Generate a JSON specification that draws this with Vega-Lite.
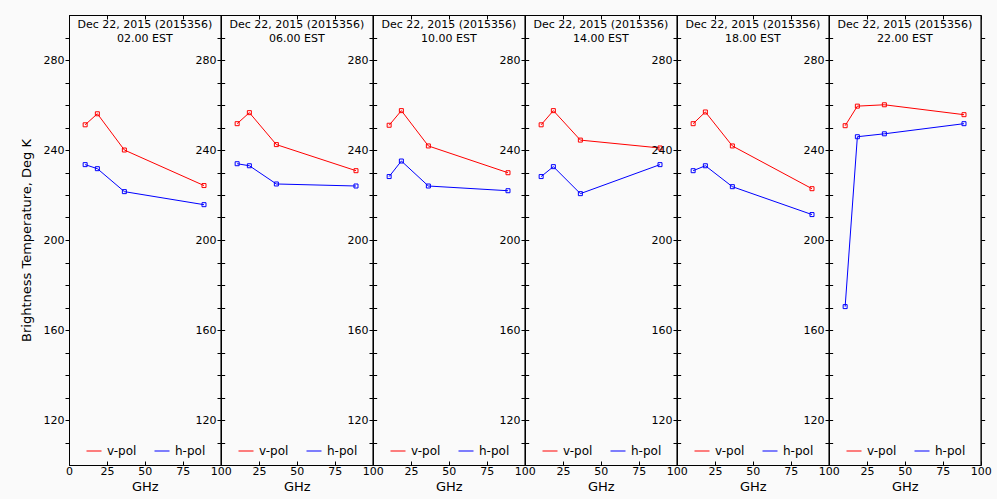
{
  "$schema": "https://vega.github.io/schema/vega-lite/v6.json",
  "background": "#fafafa",
  "padding": {"left": 19, "top": 14, "right": 5, "bottom": 5},
  "datasets": {
    "tb": [
      {"t": "02.00", "f": 10.65, "pol": "v-pol", "T": 251.2},
      {"t": "02.00", "f": 18.7, "pol": "v-pol", "T": 256.1},
      {"t": "02.00", "f": 36.5, "pol": "v-pol", "T": 240.0},
      {"t": "02.00", "f": 89.0, "pol": "v-pol", "T": 224.2},
      {"t": "02.00", "f": 10.65, "pol": "h-pol", "T": 233.5},
      {"t": "02.00", "f": 18.7, "pol": "h-pol", "T": 231.7},
      {"t": "02.00", "f": 36.5, "pol": "h-pol", "T": 221.5},
      {"t": "02.00", "f": 89.0, "pol": "h-pol", "T": 215.7},
      {"t": "06.00", "f": 10.65, "pol": "v-pol", "T": 251.7},
      {"t": "06.00", "f": 18.7, "pol": "v-pol", "T": 256.6},
      {"t": "06.00", "f": 36.5, "pol": "v-pol", "T": 242.4},
      {"t": "06.00", "f": 89.0, "pol": "v-pol", "T": 230.8},
      {"t": "06.00", "f": 10.65, "pol": "h-pol", "T": 233.9},
      {"t": "06.00", "f": 18.7, "pol": "h-pol", "T": 233.0},
      {"t": "06.00", "f": 36.5, "pol": "h-pol", "T": 224.9},
      {"t": "06.00", "f": 89.0, "pol": "h-pol", "T": 224.0},
      {"t": "10.00", "f": 10.65, "pol": "v-pol", "T": 251.0},
      {"t": "10.00", "f": 18.7, "pol": "v-pol", "T": 257.5},
      {"t": "10.00", "f": 36.5, "pol": "v-pol", "T": 241.8},
      {"t": "10.00", "f": 89.0, "pol": "v-pol", "T": 229.9},
      {"t": "10.00", "f": 10.65, "pol": "h-pol", "T": 228.2},
      {"t": "10.00", "f": 18.7, "pol": "h-pol", "T": 235.1},
      {"t": "10.00", "f": 36.5, "pol": "h-pol", "T": 224.0},
      {"t": "10.00", "f": 89.0, "pol": "h-pol", "T": 221.9},
      {"t": "14.00", "f": 10.65, "pol": "v-pol", "T": 251.2},
      {"t": "14.00", "f": 18.7, "pol": "v-pol", "T": 257.5},
      {"t": "14.00", "f": 36.5, "pol": "v-pol", "T": 244.4},
      {"t": "14.00", "f": 89.0, "pol": "v-pol", "T": 240.9},
      {"t": "14.00", "f": 10.65, "pol": "h-pol", "T": 228.2},
      {"t": "14.00", "f": 18.7, "pol": "h-pol", "T": 232.6},
      {"t": "14.00", "f": 36.5, "pol": "h-pol", "T": 220.6},
      {"t": "14.00", "f": 89.0, "pol": "h-pol", "T": 233.5},
      {"t": "18.00", "f": 10.65, "pol": "v-pol", "T": 251.7},
      {"t": "18.00", "f": 18.7, "pol": "v-pol", "T": 256.9},
      {"t": "18.00", "f": 36.5, "pol": "v-pol", "T": 241.8},
      {"t": "18.00", "f": 89.0, "pol": "v-pol", "T": 222.8},
      {"t": "18.00", "f": 10.65, "pol": "h-pol", "T": 230.8},
      {"t": "18.00", "f": 18.7, "pol": "h-pol", "T": 233.0},
      {"t": "18.00", "f": 36.5, "pol": "h-pol", "T": 223.7},
      {"t": "18.00", "f": 89.0, "pol": "h-pol", "T": 211.3},
      {"t": "22.00", "f": 10.65, "pol": "v-pol", "T": 250.8},
      {"t": "22.00", "f": 18.7, "pol": "v-pol", "T": 259.5},
      {"t": "22.00", "f": 36.5, "pol": "v-pol", "T": 260.1},
      {"t": "22.00", "f": 89.0, "pol": "v-pol", "T": 255.7},
      {"t": "22.00", "f": 10.65, "pol": "h-pol", "T": 170.4},
      {"t": "22.00", "f": 18.7, "pol": "h-pol", "T": 245.9},
      {"t": "22.00", "f": 36.5, "pol": "h-pol", "T": 247.2},
      {"t": "22.00", "f": 89.0, "pol": "h-pol", "T": 251.7}
    ]
  },
  "data": {"name": "tb"},
  "spacing": 0,
  "bounds": "flush",
  "resolve": {"legend": {"color": "independent"}},
  "hconcat": [
    {
      "width": 151.67, "height": 450,
      "title": {"text": ["Dec 22, 2015 (2015356)", "02.00 EST"], "offset": -29},
      "transform": [{"filter": "datum.t == '02.00'"}],
      "resolve": {"axis": {"x": "independent", "y": "independent"}},
      "layer": [
        {"mark": {"type": "line", "strokeWidth": 1},
         "encoding": {
           "x": {"field": "f", "type": "quantitative", "scale": {"domain": [0, 100], "nice": false}, "axis": {"title": "GHz", "values": [0, 25, 50, 75, 100], "tickSize": -4, "labelPadding": 4, "labelFlush": false}},
           "y": {"field": "T", "type": "quantitative", "scale": {"domain": [100, 300], "nice": false, "zero": false}, "axis": {"title": "Brightness Temperature, Deg K", "values": [110,120,130,140,150,160,170,180,190,200,210,220,230,240,250,260,270,280,290], "labelExpr": "datum.value % 40 == 0 ? datum.label : ''", "tickSize": 4, "titlePadding": 10}},
           "color": {"field": "pol", "type": "nominal", "scale": {"domain": ["v-pol", "h-pol"], "range": ["#ff0000", "#0000ff"]}, "legend": {"title": null, "orient": "none", "legendX": 17, "legendY": 428, "direction": "horizontal"}}
         }},
        {"mark": {"type": "point", "shape": "square", "filled": false, "size": 16, "strokeWidth": 1, "opacity": 1},
         "encoding": {
           "x": {"field": "f", "type": "quantitative", "axis": {"orient": "top", "title": null, "labels": false, "values": [0, 25, 50, 75, 100], "tickSize": -4}},
           "y": {"field": "T", "type": "quantitative", "axis": {"orient": "right", "title": null, "labels": false, "values": [110,120,130,140,150,160,170,180,190,200,210,220,230,240,250,260,270,280,290], "tickSize": 4}},
           "color": {"field": "pol", "type": "nominal", "legend": null}
         }}
      ]
    },
    {
      "width": 151.67, "height": 450,
      "title": {"text": ["Dec 22, 2015 (2015356)", "06.00 EST"], "offset": -29},
      "transform": [{"filter": "datum.t == '06.00'"}],
      "resolve": {"axis": {"x": "independent", "y": "independent"}},
      "layer": [
        {"mark": {"type": "line", "strokeWidth": 1},
         "encoding": {
           "x": {"field": "f", "type": "quantitative", "scale": {"domain": [0, 100], "nice": false}, "axis": {"title": "GHz", "values": [0, 25, 50, 75, 100], "labelExpr": "datum.value == 0 ? '' : datum.label", "tickSize": -4, "labelPadding": 4, "labelFlush": false}},
           "y": {"field": "T", "type": "quantitative", "scale": {"domain": [100, 300], "nice": false, "zero": false}, "axis": {"title": null, "values": [110,120,130,140,150,160,170,180,190,200,210,220,230,240,250,260,270,280,290], "labelExpr": "datum.value % 40 == 0 ? datum.label : ''", "tickSize": 4}},
           "color": {"field": "pol", "type": "nominal", "scale": {"domain": ["v-pol", "h-pol"], "range": ["#ff0000", "#0000ff"]}, "legend": {"title": null, "orient": "none", "legendX": 17, "legendY": 428, "direction": "horizontal"}}
         }},
        {"mark": {"type": "point", "shape": "square", "filled": false, "size": 16, "strokeWidth": 1, "opacity": 1},
         "encoding": {
           "x": {"field": "f", "type": "quantitative", "axis": {"orient": "top", "title": null, "labels": false, "values": [0, 25, 50, 75, 100], "tickSize": -4}},
           "y": {"field": "T", "type": "quantitative", "axis": {"orient": "right", "title": null, "labels": false, "values": [110,120,130,140,150,160,170,180,190,200,210,220,230,240,250,260,270,280,290], "tickSize": 4}},
           "color": {"field": "pol", "type": "nominal", "legend": null}
         }}
      ]
    },
    {
      "width": 151.67, "height": 450,
      "title": {"text": ["Dec 22, 2015 (2015356)", "10.00 EST"], "offset": -29},
      "transform": [{"filter": "datum.t == '10.00'"}],
      "resolve": {"axis": {"x": "independent", "y": "independent"}},
      "layer": [
        {"mark": {"type": "line", "strokeWidth": 1},
         "encoding": {
           "x": {"field": "f", "type": "quantitative", "scale": {"domain": [0, 100], "nice": false}, "axis": {"title": "GHz", "values": [0, 25, 50, 75, 100], "labelExpr": "datum.value == 0 ? '' : datum.label", "tickSize": -4, "labelPadding": 4, "labelFlush": false}},
           "y": {"field": "T", "type": "quantitative", "scale": {"domain": [100, 300], "nice": false, "zero": false}, "axis": {"title": null, "values": [110,120,130,140,150,160,170,180,190,200,210,220,230,240,250,260,270,280,290], "labelExpr": "datum.value % 40 == 0 ? datum.label : ''", "tickSize": 4}},
           "color": {"field": "pol", "type": "nominal", "scale": {"domain": ["v-pol", "h-pol"], "range": ["#ff0000", "#0000ff"]}, "legend": {"title": null, "orient": "none", "legendX": 17, "legendY": 428, "direction": "horizontal"}}
         }},
        {"mark": {"type": "point", "shape": "square", "filled": false, "size": 16, "strokeWidth": 1, "opacity": 1},
         "encoding": {
           "x": {"field": "f", "type": "quantitative", "axis": {"orient": "top", "title": null, "labels": false, "values": [0, 25, 50, 75, 100], "tickSize": -4}},
           "y": {"field": "T", "type": "quantitative", "axis": {"orient": "right", "title": null, "labels": false, "values": [110,120,130,140,150,160,170,180,190,200,210,220,230,240,250,260,270,280,290], "tickSize": 4}},
           "color": {"field": "pol", "type": "nominal", "legend": null}
         }}
      ]
    },
    {
      "width": 151.67, "height": 450,
      "title": {"text": ["Dec 22, 2015 (2015356)", "14.00 EST"], "offset": -29},
      "transform": [{"filter": "datum.t == '14.00'"}],
      "resolve": {"axis": {"x": "independent", "y": "independent"}},
      "layer": [
        {"mark": {"type": "line", "strokeWidth": 1},
         "encoding": {
           "x": {"field": "f", "type": "quantitative", "scale": {"domain": [0, 100], "nice": false}, "axis": {"title": "GHz", "values": [0, 25, 50, 75, 100], "labelExpr": "datum.value == 0 ? '' : datum.label", "tickSize": -4, "labelPadding": 4, "labelFlush": false}},
           "y": {"field": "T", "type": "quantitative", "scale": {"domain": [100, 300], "nice": false, "zero": false}, "axis": {"title": null, "values": [110,120,130,140,150,160,170,180,190,200,210,220,230,240,250,260,270,280,290], "labelExpr": "datum.value % 40 == 0 ? datum.label : ''", "tickSize": 4}},
           "color": {"field": "pol", "type": "nominal", "scale": {"domain": ["v-pol", "h-pol"], "range": ["#ff0000", "#0000ff"]}, "legend": {"title": null, "orient": "none", "legendX": 17, "legendY": 428, "direction": "horizontal"}}
         }},
        {"mark": {"type": "point", "shape": "square", "filled": false, "size": 16, "strokeWidth": 1, "opacity": 1},
         "encoding": {
           "x": {"field": "f", "type": "quantitative", "axis": {"orient": "top", "title": null, "labels": false, "values": [0, 25, 50, 75, 100], "tickSize": -4}},
           "y": {"field": "T", "type": "quantitative", "axis": {"orient": "right", "title": null, "labels": false, "values": [110,120,130,140,150,160,170,180,190,200,210,220,230,240,250,260,270,280,290], "tickSize": 4}},
           "color": {"field": "pol", "type": "nominal", "legend": null}
         }}
      ]
    },
    {
      "width": 151.67, "height": 450,
      "title": {"text": ["Dec 22, 2015 (2015356)", "18.00 EST"], "offset": -29},
      "transform": [{"filter": "datum.t == '18.00'"}],
      "resolve": {"axis": {"x": "independent", "y": "independent"}},
      "layer": [
        {"mark": {"type": "line", "strokeWidth": 1},
         "encoding": {
           "x": {"field": "f", "type": "quantitative", "scale": {"domain": [0, 100], "nice": false}, "axis": {"title": "GHz", "values": [0, 25, 50, 75, 100], "labelExpr": "datum.value == 0 ? '' : datum.label", "tickSize": -4, "labelPadding": 4, "labelFlush": false}},
           "y": {"field": "T", "type": "quantitative", "scale": {"domain": [100, 300], "nice": false, "zero": false}, "axis": {"title": null, "values": [110,120,130,140,150,160,170,180,190,200,210,220,230,240,250,260,270,280,290], "labelExpr": "datum.value % 40 == 0 ? datum.label : ''", "tickSize": 4}},
           "color": {"field": "pol", "type": "nominal", "scale": {"domain": ["v-pol", "h-pol"], "range": ["#ff0000", "#0000ff"]}, "legend": {"title": null, "orient": "none", "legendX": 17, "legendY": 428, "direction": "horizontal"}}
         }},
        {"mark": {"type": "point", "shape": "square", "filled": false, "size": 16, "strokeWidth": 1, "opacity": 1},
         "encoding": {
           "x": {"field": "f", "type": "quantitative", "axis": {"orient": "top", "title": null, "labels": false, "values": [0, 25, 50, 75, 100], "tickSize": -4}},
           "y": {"field": "T", "type": "quantitative", "axis": {"orient": "right", "title": null, "labels": false, "values": [110,120,130,140,150,160,170,180,190,200,210,220,230,240,250,260,270,280,290], "tickSize": 4}},
           "color": {"field": "pol", "type": "nominal", "legend": null}
         }}
      ]
    },
    {
      "width": 151.67, "height": 450,
      "title": {"text": ["Dec 22, 2015 (2015356)", "22.00 EST"], "offset": -29},
      "transform": [{"filter": "datum.t == '22.00'"}],
      "resolve": {"axis": {"x": "independent", "y": "independent"}},
      "layer": [
        {"mark": {"type": "line", "strokeWidth": 1},
         "encoding": {
           "x": {"field": "f", "type": "quantitative", "scale": {"domain": [0, 100], "nice": false}, "axis": {"title": "GHz", "values": [0, 25, 50, 75, 100], "labelExpr": "datum.value == 0 ? '' : datum.label", "tickSize": -4, "labelPadding": 4, "labelFlush": false}},
           "y": {"field": "T", "type": "quantitative", "scale": {"domain": [100, 300], "nice": false, "zero": false}, "axis": {"title": null, "values": [110,120,130,140,150,160,170,180,190,200,210,220,230,240,250,260,270,280,290], "labelExpr": "datum.value % 40 == 0 ? datum.label : ''", "tickSize": 4}},
           "color": {"field": "pol", "type": "nominal", "scale": {"domain": ["v-pol", "h-pol"], "range": ["#ff0000", "#0000ff"]}, "legend": {"title": null, "orient": "none", "legendX": 17, "legendY": 428, "direction": "horizontal"}}
         }},
        {"mark": {"type": "point", "shape": "square", "filled": false, "size": 16, "strokeWidth": 1, "opacity": 1},
         "encoding": {
           "x": {"field": "f", "type": "quantitative", "axis": {"orient": "top", "title": null, "labels": false, "values": [0, 25, 50, 75, 100], "tickSize": -4}},
           "y": {"field": "T", "type": "quantitative", "axis": {"orient": "right", "title": null, "labels": false, "values": [110,120,130,140,150,160,170,180,190,200,210,220,230,240,250,260,270,280,290], "tickSize": 4}},
           "color": {"field": "pol", "type": "nominal", "legend": null}
         }}
      ]
    }
  ],
  "config": {
    "font": "DejaVu Sans",
    "view": {"stroke": "black", "strokeWidth": 1},
    "axis": {"grid": false, "domainColor": "black", "domainWidth": 1, "tickColor": "black", "tickWidth": 1, "labelColor": "black", "titleColor": "black", "labelFontSize": 11, "titleFontSize": 13, "titleFontWeight": "normal", "labelPadding": 1},
    "title": {"fontSize": 11, "fontWeight": "normal", "color": "black", "lineHeight": 14, "anchor": "middle", "frame": "group"},
    "legend": {"symbolType": "stroke", "symbolSize": 225, "symbolStrokeWidth": 1.5, "labelFontSize": 12, "labelColor": "black", "columnPadding": 15, "labelOffset": 5, "padding": 0},
    "line": {"strokeWidth": 1}
  }
}
